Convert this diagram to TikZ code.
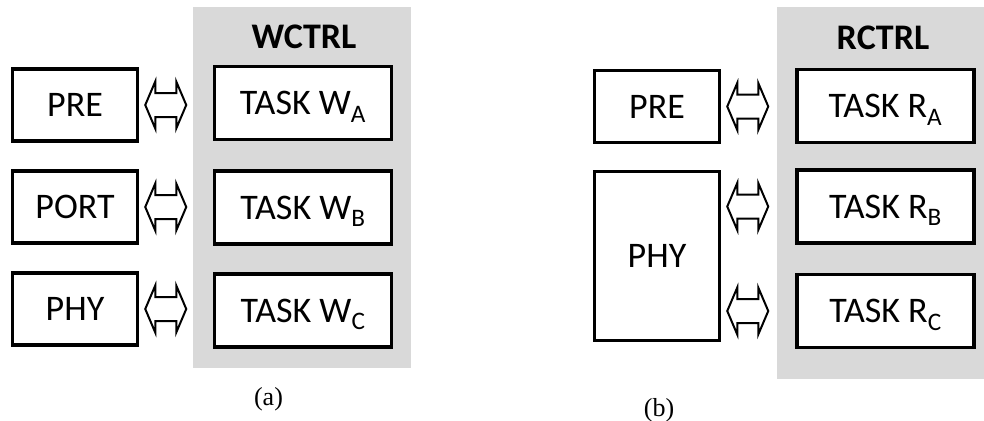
\documentclass[tikz,border=0pt]{standalone}
\usepackage{fontspec}
\setmainfont{Carlito}
\newfontfamily\capfont{Liberation Serif}
\usetikzlibrary{positioning,calc}

\definecolor{panelgray}{RGB}{217,217,217}

\begin{document}
\begin{tikzpicture}[x=1pt, y=-1pt,
    box/.style = {draw, line width=3.5pt, fill=white, inner sep=0pt, text height=23pt, text depth=0pt, font=\fontsize{36}{36}\selectfont},
    side/.style = {box, minimum width=125pt, minimum height=72pt},
    task/.style = {box, minimum width=177pt, minimum height=73pt},
    title/.style = {font=\fontsize{36}{36}\selectfont\bfseries},
    caption/.style = {font=\fontsize{26}{26}\selectfont\capfont},
    biarrow/.pic = {\draw[line width=2pt, line join=miter] (-20.5,0) -- (-10.5,-23.5) -- (-10.5,-12) -- (10.5,-12) -- (10.5,-23.5) -- (20.5,0) -- (10.5,23.5) -- (10.5,12) -- (-10.5,12) -- (-10.5,23.5) -- cycle;}]
        \useasboundingbox (0,0) rectangle (984,420);
        % (a) write side
        \fill[panelgray] (193,7) rectangle (411,368);
        \node[title] (wctrl) at (304,37) {WCTRL};
        \node[task] (wa) at (303,103) {TASK W\textsubscript{A}};
        \node[task] (wb) at (303,207.5) {TASK W\textsubscript{B}};
        \node[task] (wc) at (303,310.5) {TASK W\textsubscript{C}};
        \node[side] (wpre)  at (75,105) {PRE};
        \node[side] (wport) at (75,207) {PORT};
        \node[side] (wphy)  at (75,309) {PHY};
        \pic at ($(wpre.east)+(26.5,0)$)  {biarrow};
        \pic at ($(wport.east)+(26.5,0)$) {biarrow};
        \pic at ($(wphy.east)+(26.5,0)$)  {biarrow};
        \node[caption] (capa) at (268.5,399) {(a)};
        % (b) read side
        \fill[panelgray] (777,7) rectangle (984,379);
        \node[title] (rctrl) at (883,38) {RCTRL};
        \node[task] (ra) at (885.5,106) {TASK R\textsubscript{A}};
        \node[task] (rb) at (885.5,206.5) {TASK R\textsubscript{B}};
        \node[task] (rc) at (885.5,311) {TASK R\textsubscript{C}};
        \node[side] (rpre) at (657,106.5) {PRE};
        \node[side, minimum height=169pt] (rphy) at (657,256) {PHY};
        \pic at ($(rpre.east)+(26.5,0)$)    {biarrow};
        \pic at ($(rphy.east |- rb)+(26.5,0)$) {biarrow};
        \pic at ($(rphy.east |- rc)+(26.5,0)$) {biarrow};
        \node[caption] (capb) at (659,410) {(b)};
\end{tikzpicture}
\end{document}
